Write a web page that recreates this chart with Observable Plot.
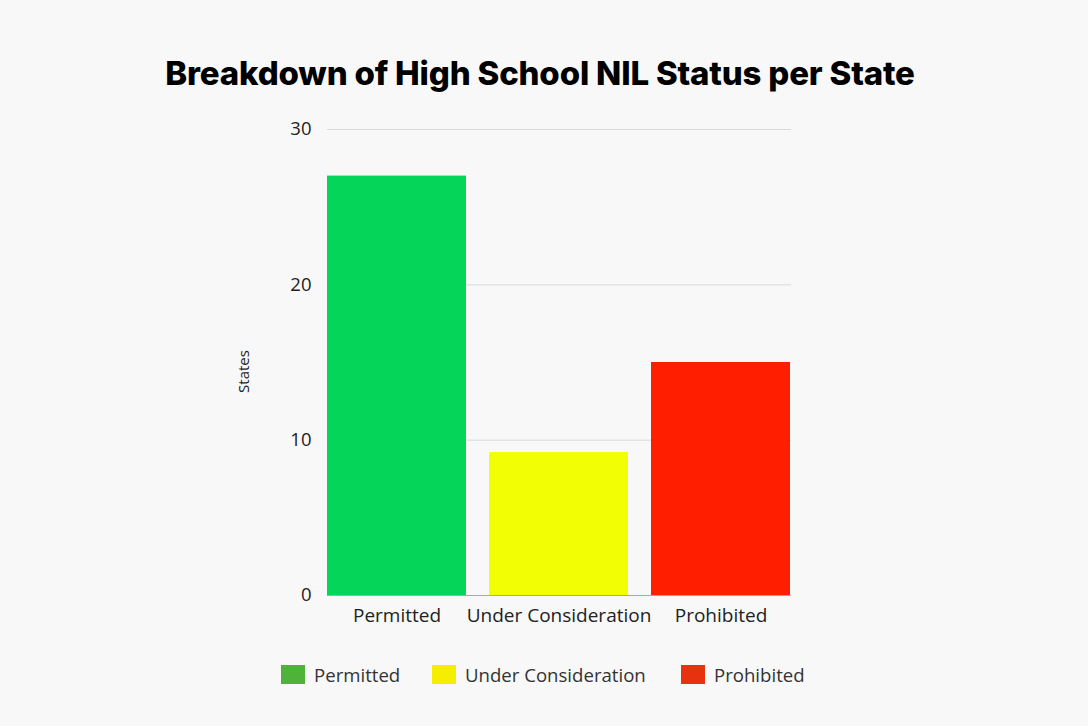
<!DOCTYPE html>
<html>
<head>
<meta charset="utf-8">
<script src="https://cdn.jsdelivr.net/npm/d3@7"></script>
<script src="https://cdn.jsdelivr.net/npm/@observablehq/plot@0.6"></script>
<style>
  html, body { margin: 0; padding: 0; background: #f8f8f8; }
  #wrap { position: relative; width: 1088px; height: 726px; background: #f8f8f8; overflow: hidden; }
  #title { position: absolute; left: 0; width: 1080px; top: 53px; text-align: center;
    font-family: Inter, sans-serif; font-weight: 800; font-size: 33px; color: #000; letter-spacing: -0.18px; line-height: 40px; }
  #chart { position: absolute; left: 0; top: 100px; }
  #legend { position: absolute; left: 0; top: 663px; width: 1088px; height: 22px; font-family: "Open Sans", sans-serif; font-size: 18.6px; color: #333; }
  .item { position: absolute; top: 0; display: flex; align-items: center; height: 22px; }
  .sw { width: 24px; height: 19px; margin-right: 9px; }
</style>
</head>
<body>
<div id="wrap">
  <div id="title">Breakdown of High School NIL Status per State</div>
  <div id="chart"></div>
  <div id="legend"></div>
</div>
<script>
const categories = ["Permitted", "Under Consideration", "Prohibited"];
const states = [27, 9.2, 15];
const barColors = ["#05d65a", "#f2fe03", "#ff1f00"];
const legendColors = ["#4fb33a", "#f5ee00", "#e8310f"];
const yTicks = [0, 10, 20, 30];

const data = categories.map((c, i) => ({category: c, value: states[i]}));

const plot = Plot.plot({
  width: 1088,
  height: 540,
  marginLeft: 327,
  marginRight: 297,
  marginTop: 29,
  marginBottom: 45,
  style: {background: "transparent", fontFamily: "'Open Sans', sans-serif", fontSize: "18px", color: "#222"},
  x: {domain: categories, paddingInner: 0.14, paddingOuter: 0, label: null},
  y: {domain: [0, 30], label: null},
  color: {domain: categories, range: barColors},
  marks: [
    Plot.gridY(yTicks.filter(d => d > 0), {stroke: "#d9d9d9", strokeOpacity: 1, strokeWidth: 1}),
    Plot.barY(data, {x: "category", y: "value", fill: "category"}),
    Plot.ruleY([0], {stroke: "#a8a8a8", strokeWidth: 1}),
    Plot.axisY({ticks: yTicks, tickSize: 0, tickPadding: 16, label: null, fontSize: 18.5}),
    Plot.axisX({tickSize: 0, tickPadding: 13, label: null, fontSize: 19}),
    Plot.text(["States"], {frameAnchor: "left", textAnchor: "middle", dx: -83, dy: 9, rotate: -90, fontSize: 15, fill: "#222"})
  ]
});
document.getElementById("chart").appendChild(plot);

const legend = document.getElementById("legend");
const lefts = [281, 432, 681];
categories.forEach((c, i) => {
  const item = document.createElement("div");
  item.className = "item";
  item.style.left = lefts[i] + "px";
  const sw = document.createElement("div");
  sw.className = "sw";
  sw.style.background = legendColors[i];
  const lab = document.createElement("span");
  lab.textContent = c;
  item.appendChild(sw);
  item.appendChild(lab);
  legend.appendChild(item);
});
</script>
</body>
</html>
